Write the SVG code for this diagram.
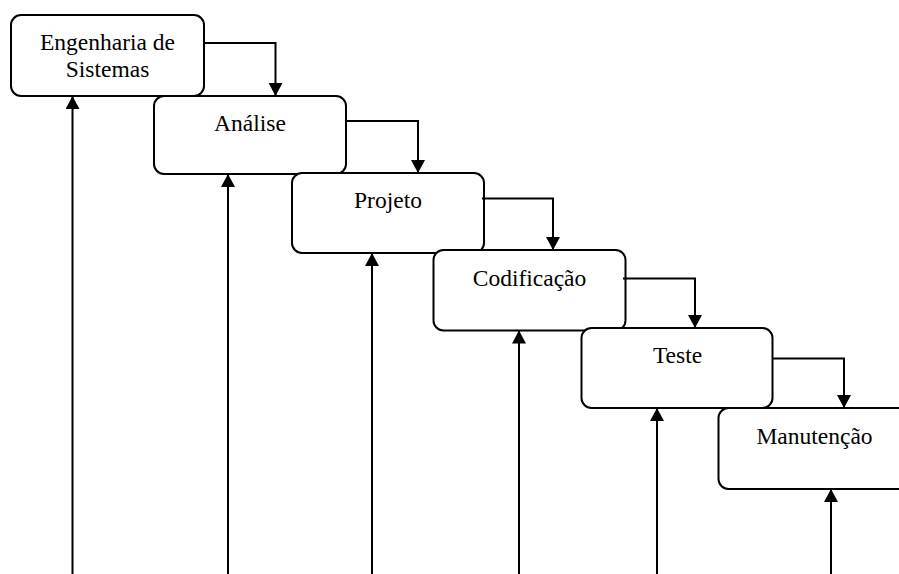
<svg xmlns="http://www.w3.org/2000/svg" width="899" height="574" viewBox="0 0 899 574">
<style>
.box{fill:#fff;stroke:#000;stroke-width:2}
.lbl{font-family:"Liberation Serif","Times New Roman",serif;font-size:23.5px;fill:#000;text-anchor:middle}
.con{fill:none;stroke:#000;stroke-width:2}
</style>
<defs>
<marker id="ah" viewBox="0 0 14 15" refX="14" refY="7.5" markerWidth="15" markerHeight="14" markerUnits="userSpaceOnUse" orient="auto">
<path d="M0,0 L14,7.5 L0,15 Z" fill="#000"/>
</marker>
</defs>
<rect width="899" height="574" fill="#fff"/>
<g id="n1"><rect class="box" x="11" y="15" width="193" height="81" rx="10"/>
<text class="lbl" x="107.5" y="50">Engenharia de</text><text class="lbl" x="107.5" y="77">Sistemas</text></g>
<g id="n2"><rect class="box" x="154" y="96" width="192" height="78" rx="10"/>
<text class="lbl" x="250" y="131">Análise</text></g>
<g id="n3"><rect class="box" x="292" y="173" width="192" height="80" rx="10"/>
<text class="lbl" x="388" y="208">Projeto</text></g>
<g id="n4"><rect class="box" x="433.5" y="250" width="192" height="80.5" rx="10"/>
<text class="lbl" x="529.5" y="286">Codificação</text></g>
<g id="n5"><rect class="box" x="581.5" y="328" width="191" height="80" rx="10"/>
<text class="lbl" x="677.5" y="363">Teste</text></g>
<g id="n6"><rect class="box" x="718.5" y="408" width="192" height="81" rx="10"/>
<text class="lbl" x="814.5" y="444">Manutenção</text></g>
<g id="connectors">
<path class="con" d="M204,43 H275.5 V96" marker-end="url(#ah)"/>
<path class="con" d="M346,121 H418 V173" marker-end="url(#ah)"/>
<path class="con" d="M482,198.5 H553 V250" marker-end="url(#ah)"/>
<path class="con" d="M623,278.5 H695 V328" marker-end="url(#ah)"/>
<path class="con" d="M772.5,358.5 H844 V408" marker-end="url(#ah)"/>
<path class="con" d="M72.5,574 V96" marker-end="url(#ah)"/>
<path class="con" d="M228,574 V174" marker-end="url(#ah)"/>
<path class="con" d="M372,574 V253" marker-end="url(#ah)"/>
<path class="con" d="M519,574 V330.5" marker-end="url(#ah)"/>
<path class="con" d="M657,574 V408" marker-end="url(#ah)"/>
<path class="con" d="M831,574 V489" marker-end="url(#ah)"/>
</g>
</svg>
